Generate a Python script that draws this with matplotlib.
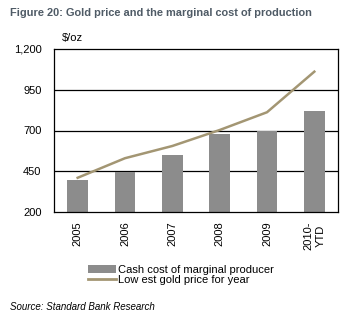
import matplotlib
matplotlib.use("Agg")
import matplotlib.pyplot as plt
from matplotlib.lines import Line2D
from matplotlib.patches import Patch

plt.rcParams['font.family'] = ['Liberation Sans', 'DejaVu Sans']

categories = ["2005", "2006", "2007", "2008", "2009", "2010-\nYTD"]
cash_cost = [397, 445, 550, 680, 695, 820]
low_price = [410, 530, 605, 703, 812, 1061]
yticks = [200, 450, 700, 950, 1200]
ytick_labels = ["200", "450", "700", "950", "1,200"]

bar_color = "#8c8c8c"
line_color = "#a39673"

fig = plt.figure(figsize=(3.55, 3.23), dpi=100)
ax = fig.add_axes([54/355, 1-212/323, 284/355, 163/323])

x = list(range(len(categories)))
ax.bar(x, [v - 200 for v in cash_cost], bottom=200, width=0.44, color=bar_color, zorder=2)
ax.plot(x, low_price, color=line_color, lw=1.8, zorder=3)

ax.set_xlim(-0.5, len(categories) - 0.5)
ax.set_ylim(200, 1200)
ax.set_yticks(yticks)
ax.set_yticklabels(ytick_labels)
ax.set_xticks(x)
ax.set_xticklabels(categories, rotation=90, va='top', ha='center', linespacing=1.25)
ax.tick_params(axis='both', length=0, labelsize=8, colors='black')
ax.tick_params(axis='y', pad=9)
ax.tick_params(axis='x', pad=7)
for yv in yticks[1:-1]:
    ax.axhline(yv, color='black', lw=0.9, zorder=1)
for s in ax.spines.values():
    s.set_linewidth(0.9)
    s.set_color('black')

fig.text(10/355, 1-13/323, "Figure 20: Gold price and the marginal cost of production",
         fontsize=7.9, fontweight='bold', color='#4f5b66', va='center', ha='left')
fig.text(62/355, 1-38/323, "$/oz", fontsize=8, va='center', ha='left')

handles = [Patch(facecolor=bar_color, edgecolor='none'),
           Line2D([0], [0], color=line_color, lw=2)]
labels = ["Cash cost of marginal producer", "Low est gold price for year"]
fig.legend(handles, labels, loc='center left', bbox_to_anchor=(82/355, 1-275/323),
           frameon=False, fontsize=8, handlelength=2.6, handletextpad=0.1,
           labelspacing=0.05, borderpad=0)

fig.text(10/355, 1-307/323, "Source: Standard Bank Research", fontsize=7,
         style='italic', va='center', ha='left')

fig.savefig("out.png", dpi=100)
